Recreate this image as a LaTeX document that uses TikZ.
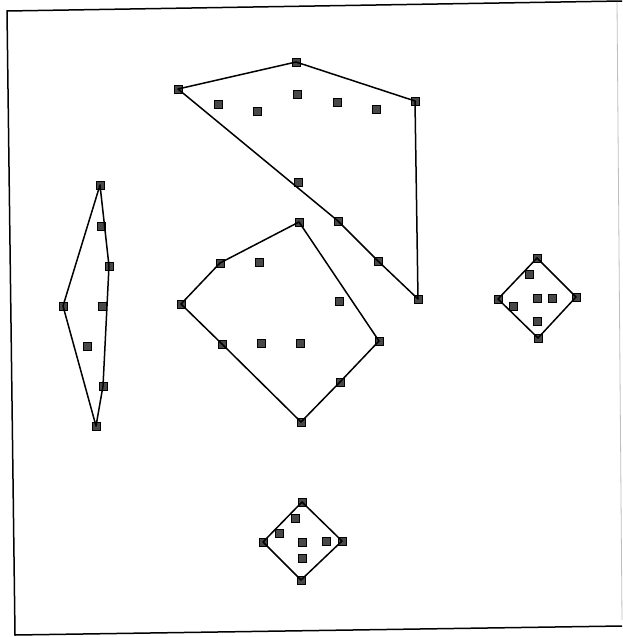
\documentclass[tikz,border=0pt]{standalone}
\begin{document}
\begin{tikzpicture}[x=1pt,y=-1pt,
  pt/.style={draw=black, line width=0.5pt, fill={rgb,255:red,72;green,72;blue,72}, minimum size=7.5pt, inner sep=0pt, outer sep=0pt, rectangle},
  hull/.style={draw=black, line width=1.5pt, line join=round},
  frame/.style={draw=black, line width=1.5pt}]
\useasboundingbox (0,0) rectangle (622,637);
% frame
\coordinate (f1) at (7,11);
\coordinate (f2) at (622,1);
\coordinate (f3) at (622,626);
\coordinate (f4) at (15,635);
\coordinate (f5) at (617,2);
\coordinate (f6) at (622,620);
\draw[frame] (f2) -- (f1) -- (f4) -- (f3);
\draw[draw=black!25, line width=0.8pt] (f5) -- (f6);

% cluster A (top)
\node[pt] (a1) at (178,89) {};
\node[pt] (a2) at (296,62) {};
\node[pt] (a3) at (415,101) {};
\node[pt] (a4) at (418,299) {};
\node[pt] (a5) at (218,104) {};
\node[pt] (a6) at (257,111) {};
\node[pt] (a7) at (297,94) {};
\node[pt] (a8) at (337,102) {};
\node[pt] (a9) at (376,109) {};
\node[pt] (a10) at (298,182) {};
\node[pt] (a11) at (338,221) {};
\node[pt] (a12) at (378,261) {};
\draw[hull] (a1.center) -- (a2.center) -- (a3.center) -- (a4.center) -- (a12.center) -- (a11.center) -- cycle;

% cluster B (middle)
\node[pt] (b1) at (299,222) {};
\node[pt] (b2) at (220,263) {};
\node[pt] (b3) at (259,262) {};
\node[pt] (b4) at (181,304) {};
\node[pt] (b5) at (339,301) {};
\node[pt] (b6) at (222,344) {};
\node[pt] (b7) at (261,343) {};
\node[pt] (b8) at (300,343) {};
\node[pt] (b9) at (379,341) {};
\node[pt] (b10) at (340,382) {};
\node[pt] (b11) at (301,422) {};
\draw[hull] (b1.center) -- (b9.center) -- (b10.center) -- (b11.center) -- (b6.center) -- (b4.center) -- (b2.center) -- cycle;

% cluster C (left)
\node[pt] (c1) at (100,185) {};
\node[pt] (c2) at (101,226) {};
\node[pt] (c3) at (109,266) {};
\node[pt] (c4) at (63,306) {};
\node[pt] (c5) at (102,306) {};
\node[pt] (c6) at (87,346) {};
\node[pt] (c7) at (103,386) {};
\node[pt] (c8) at (96,426) {};
\draw[hull] (c1.center) -- (c3.center) -- (c7.center) -- (c8.center) -- (c4.center) -- cycle;

% cluster D (right)
\node[pt] (d1) at (537,258) {};
\node[pt] (d2) at (529,274) {};
\node[pt] (d3) at (498,299) {};
\node[pt] (d4) at (513,306) {};
\node[pt] (d5) at (537,298) {};
\node[pt] (d6) at (552,298) {};
\node[pt] (d7) at (576,297) {};
\node[pt] (d8) at (537,321) {};
\node[pt] (d9) at (538,338) {};
\draw[hull] (d1.center) -- (d7.center) -- (d9.center) -- (d3.center) -- cycle;

% cluster E (bottom)
\node[pt] (e1) at (302,502) {};
\node[pt] (e2) at (295,518) {};
\node[pt] (e3) at (279,533) {};
\node[pt] (e4) at (263,542) {};
\node[pt] (e5) at (302,542) {};
\node[pt] (e6) at (326,541) {};
\node[pt] (e7) at (342,541) {};
\node[pt] (e8) at (302,558) {};
\node[pt] (e9) at (301,580) {};
\draw[hull] (e1.center) -- (e7.center) -- (e9.center) -- (e4.center) -- cycle;
\end{tikzpicture}
\end{document}
